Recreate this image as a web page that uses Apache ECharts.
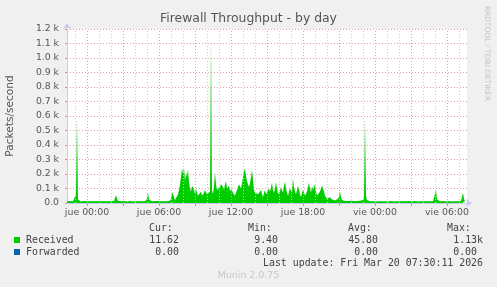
<!DOCTYPE html>
<html><head><meta charset="utf-8">
<script src="https://cdn.jsdelivr.net/npm/echarts@6/dist/echarts.min.js"></script>
<style>html,body{margin:0;padding:0;background:#f0f0f0}#c{width:497px;height:287px}</style>
</head><body><div id="c"></div>
<script>
// Time sampling: 5-minute steps, minutes relative to "jue 00:00"
const startMinute = -100;
const stepMinutes = 5;
const received = [
12,11,12,13,12,11,12,12,14,60,590,25,13,12,11,12,12,13,12,11,
12,12,13,12,12,11,12,13,12,12,11,12,13,20,13,12,12,11,12,13,
12,12,11,12,12,13,12,14,25,55,30,15,13,12,12,11,12,13,12,12,
11,12,12,13,12,12,11,12,13,12,12,11,12,12,13,12,12,11,12,14,
30,75,25,13,12,12,11,12,13,12,12,13,25,18,12,12,11,12,13,12,
12,11,13,15,30,75,60,40,20,15,30,60,90,130,180,240,200,245,150,210,
180,235,140,100,80,120,130,90,60,100,70,50,40,60,80,50,40,70,90,80,
60,50,70,80,1130,90,60,120,210,130,90,100,80,110,130,140,110,90,130,150,
100,90,120,80,100,110,70,60,50,70,90,110,130,120,100,140,180,220,235,190,
150,130,110,140,180,230,160,90,70,60,80,60,50,70,90,60,40,70,90,60,
50,70,100,80,110,140,90,70,100,145,100,60,50,80,110,90,70,120,145,100,
70,50,80,100,90,70,170,110,80,60,90,120,90,60,40,70,90,70,50,60,
80,110,140,100,70,120,90,110,130,80,50,40,60,80,100,120,130,80,50,40,
30,25,30,40,30,25,20,20,18,20,25,30,45,80,40,20,15,14,13,14,
15,14,13,14,15,16,14,13,14,15,14,13,14,15,14,16,20,40,590,50,
20,14,13,12,13,12,12,13,12,11,12,13,12,12,11,12,13,12,12,13,
12,11,12,12,13,12,12,11,12,13,12,12,14,12,11,12,12,13,12,12,
11,12,13,12,12,11,12,12,13,12,12,11,12,13,12,12,11,12,13,12,
12,11,12,12,13,12,12,14,25,90,25,13,12,12,11,12,13,12,12,11,
12,12,13,12,12,11,12,13,12,12,14,12,11,12,13,18,70,30,12,12
];
const xLabelMinutes = [0, 360, 720, 1080, 1440, 1800];
const xLabelTexts = ['jue 00:00', 'jue 06:00', 'jue 12:00', 'jue 18:00', 'vie 00:00', 'vie 06:00'];
const legendNames = ['Received', 'Forwarded'];
const legendColors = ['#00cc00', '#0066b3'];
const statHeaders = ['Cur:', 'Min:', 'Avg:', 'Max:'];
const receivedStats = ['11.62', '9.40', '45.80', '1.13k'];
const forwardedStats = ['0.00', '0.00', '0.00', '0.00'];
const titleText = 'Firewall Throughput - by day';
const yAxisTitle = 'Packets/second';
const lastUpdate = 'Last update: Fri Mar 20 07:30:11 2026';

const xMin = startMinute, xMax = startMinute + received.length * stepMinutes;
const hourLines = [];
const majorTicks = [];
for (let t = Math.ceil(xMin / 60) * 60; t < xMax; t += 60) {
  const major = (t % 180 === 0);
  if (major) majorTicks.push(t);
  hourLines.push({ xAxis: t, lineStyle: { color: major ? '#e6a0a0' : '#cfcfcf', type: [1, 2], width: 1 } });
}

const chart = echarts.init(document.getElementById('c'), null, { renderer: 'canvas' });
const sans = 'DejaVu Sans', mono = 'DejaVu Sans Mono';
const statX = [179, 278, 378, 483];
const headX = [149, 248, 348, 447];
const graphic = [
  { type: 'text', x: 248.5, y: 19, style: { text: titleText, font: '12.4px "DejaVu Sans"', fill: '#555', align: 'center', verticalAlign: 'middle' } },
  { type: 'text', x: 10, y: 116, rotation: Math.PI / 2, style: { text: yAxisTitle, font: '10.6px "DejaVu Sans"', fill: '#555', align: 'center', verticalAlign: 'middle' } },
  { type: 'text', x: 487, y: 53.5, rotation: -Math.PI / 2, style: { text: 'RRDTOOL / TOBI OETIKER', font: '7.4px "DejaVu Sans"', fill: '#c4c4c4', align: 'center', verticalAlign: 'middle' } },
  { type: 'text', x: 248.5, y: 276, style: { text: 'Munin 2.0.75', font: '9.4px "DejaVu Sans"', fill: '#c8c8c8', align: 'center', verticalAlign: 'middle' } },
  { type: 'text', x: 483, y: 263, style: { text: lastUpdate, font: '9.9px "DejaVu Sans Mono"', fill: '#444', align: 'right', verticalAlign: 'middle' } }
];
statHeaders.forEach((h, k) => graphic.push({ type: 'text', x: headX[k], y: 228, style: { text: h, font: '9.9px "DejaVu Sans Mono"', fill: '#444', align: 'left', verticalAlign: 'middle' } }));
[receivedStats, forwardedStats].forEach((row, r) => {
  const y = 240 + r * 12;
  graphic.push({ type: 'rect', shape: { x: 14, y: y - 3, width: 6, height: 6 }, style: { fill: legendColors[r] } });
  graphic.push({ type: 'text', x: 26, y: y, style: { text: legendNames[r], font: '9.9px "DejaVu Sans Mono"', fill: '#444', align: 'left', verticalAlign: 'middle' } });
  row.forEach((v, k) => graphic.push({ type: 'text', x: (k === 3 && !/k$/.test(v)) ? 477 : statX[k], y: y, style: { text: v, font: '9.9px "DejaVu Sans Mono"', fill: '#444', align: 'right', verticalAlign: 'middle' } }));
});

chart.setOption({
  animation: false,
  backgroundColor: '#f0f0f0',
  grid: { left: 67, top: 29, width: 400, height: 174, show: true, backgroundColor: '#ffffff', borderWidth: 0 },
  xAxis: {
    type: 'value', min: xMin, max: xMax,
    axisLine: { show: true, onZero: false, lineStyle: { color: '#c8c8f4', width: 1 }, symbol: ['none', 'arrow'], symbolSize: [6, 6], symbolOffset: [0, 5] },
    axisTick: { show: true, customValues: majorTicks, length: 3, lineStyle: { color: '#e08a8a' } },
    axisLabel: { customValues: xLabelMinutes, formatter: v => xLabelTexts[xLabelMinutes.indexOf(v)] || '', fontFamily: sans, fontSize: 9.4, color: '#555', margin: 5 },
    splitLine: { show: false }
  },
  yAxis: {
    type: 'value', min: 0, max: 1200, interval: 100,
    axisLine: { show: true, onZero: false, lineStyle: { color: '#c8c8f4', width: 1 }, symbol: ['none', 'arrow'], symbolSize: [6, 6], symbolOffset: [0, 6] },
    axisTick: { show: true, length: 2, lineStyle: { color: '#e08a8a' } },
    axisLabel: { formatter: v => v === 0 ? '0.0' : (v / 1000).toFixed(1) + ' k', fontFamily: sans, fontSize: 9.3, color: '#555', margin: 8 },
    splitLine: { show: true, lineStyle: { color: '#e6a0a0', type: [1, 2], width: 1 } }
  },
  series: [
    {
      type: 'line', z: 1, data: [[xMin, 0]], showSymbol: false, symbol: 'none', lineStyle: { opacity: 0 }, silent: true,
      markLine: { silent: true, symbol: ['none', 'none'], label: { show: false }, animation: false, data: hourLines }
    },
    {
      name: legendNames[0], type: 'line', z: 3,
      data: received.map((v, i) => [startMinute + i * stepMinutes, v]),
      showSymbol: false, symbol: 'none', sampling: null,
      lineStyle: { width: 0, opacity: 0 },
      areaStyle: { color: legendColors[0], opacity: 1 }
    }
  ],
  graphic: graphic
});
</script></body></html>
